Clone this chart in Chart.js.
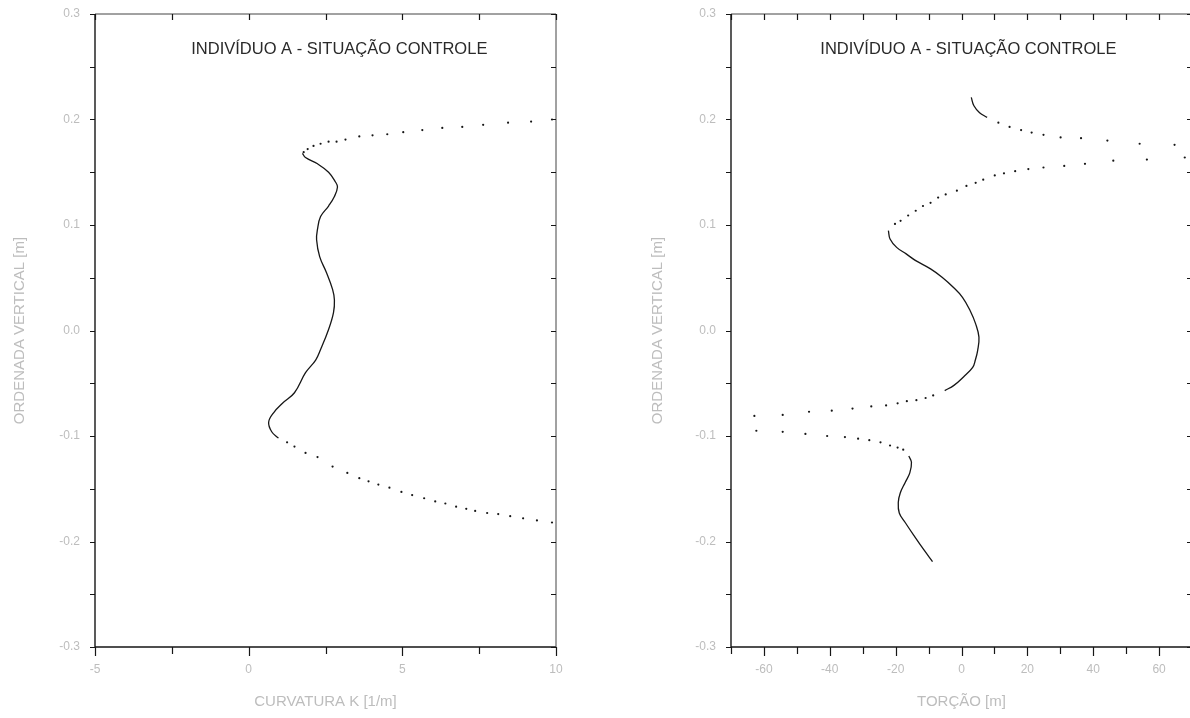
<!DOCTYPE html>
<html>
<head>
<meta charset="utf-8">
<script src="https://cdn.jsdelivr.net/npm/chart.js@4.4.1/dist/chart.umd.min.js"></script>
<style>
  html, body { margin: 0; padding: 0; background: #fff; overflow: hidden; width: 1190px; height: 718px; }
  canvas { position: absolute; top: 0; }
  #curvatura { left: 0; }
  #torcao { left: 600px; }
</style>
</head>
<body>
<canvas id="curvatura" width="600" height="718"></canvas>
<canvas id="torcao" width="620" height="718"></canvas>
<script>
// ---- shared texts and ticks ----
const panelTitle = 'INDIVÍDUO A - SITUAÇÃO CONTROLE';
const yAxisTitle = 'ORDENADA VERTICAL [m]';
const yMajorTicks = [-0.3, -0.2, -0.1, 0.0, 0.1, 0.2, 0.3];
const yMinorTicks = [-0.25, -0.15, -0.05, 0.05, 0.15, 0.25];

// ---- curvature panel ----
const curvAxisTitle = 'CURVATURA K [1/m]';
const curvMajorTicks = [-5, 0, 5, 10];
const curvMinorTicks = [-2.5, 2.5, 7.5];

// upper sparse arm (dots)
const curvTopX = [9.87, 9.19, 8.44, 7.63, 6.95, 6.30, 5.65, 5.03, 4.51, 4.03, 3.60, 3.15, 2.86, 2.60, 2.34, 2.11, 1.92, 1.79];
const curvTopY = [0.200, 0.198, 0.197, 0.195, 0.193, 0.192, 0.190, 0.188, 0.186, 0.185, 0.184, 0.181, 0.179, 0.179, 0.177, 0.175, 0.172, 0.169];
// dense central part (continuous trace)
const curvCoreX = [1.75, 1.85, 2.24, 2.60, 2.82, 2.89, 2.79, 2.60, 2.34, 2.24, 2.21, 2.31, 2.53, 2.73, 2.79, 2.76, 2.60, 2.34, 2.18, 1.85, 1.49, 1.10, 0.81, 0.65, 0.75, 0.97];
const curvCoreY = [0.168, 0.164, 0.158, 0.150, 0.141, 0.136, 0.127, 0.118, 0.108, 0.096, 0.086, 0.070, 0.055, 0.039, 0.029, 0.017, 0.001, -0.018, -0.028, -0.040, -0.059, -0.069, -0.078, -0.087, -0.096, -0.102];
// lower sparse arm (dots)
const curvBotX = [1.25, 1.49, 1.85, 2.24, 2.73, 3.21, 3.60, 3.90, 4.22, 4.58, 4.97, 5.32, 5.71, 6.07, 6.40, 6.75, 7.08, 7.37, 7.76, 8.12, 8.51, 8.93, 9.38, 9.87];
const curvBotY = [-0.106, -0.110, -0.116, -0.120, -0.129, -0.135, -0.140, -0.143, -0.146, -0.149, -0.153, -0.156, -0.159, -0.162, -0.164, -0.167, -0.169, -0.171, -0.173, -0.174, -0.176, -0.178, -0.180, -0.182];

// ---- torsion panel ----
const torAxisTitle = 'TORÇÃO [m]';
const torMajorTicks = [-60, -40, -20, 0, 20, 40, 60];
const torMinorTicks = [-70, -50, -30, -10, 10, 30, 50, 70];

const torTopX = [2.97, 3.77, 5.49, 7.77];
const torTopY = [0.221, 0.213, 0.2065, 0.202];
const torUpperDotsX = [11.2, 14.6, 18.1, 21.3, 24.9, 30.1, 36.3, 44.3, 54.1, 64.7];
const torUpperDotsY = [0.197, 0.193, 0.190, 0.1876, 0.1855, 0.183, 0.1823, 0.180, 0.177, 0.176];
const torReturnDotsX = [67.8, 56.3, 46.1, 37.5, 31.2, 24.9, 20.3, 16.3, 12.9, 10.1, 6.6, 4.3, 1.5, -1.4, -4.8, -7.1, -9.4, -11.7, -13.9, -16.2, -18.5, -20.2];
const torReturnDotsY = [0.164, 0.162, 0.161, 0.158, 0.156, 0.1545, 0.153, 0.151, 0.149, 0.147, 0.143, 0.140, 0.137, 0.1325, 0.129, 0.126, 0.121, 0.118, 0.1135, 0.109, 0.104, 0.101];
const torMidX = [-22.2, -21.7, -19.7, -16.8, -13.9, -9.4, -5.9, -2.5, 0.3, 2.6, 4.3, 5.3, 4.9, 4.2, 3.4, 0.6, -2.3, -5.1];
const torMidY = [0.0946, 0.0868, 0.0788, 0.0726, 0.0662, 0.0584, 0.0505, 0.041, 0.0315, 0.019, 0.0063, -0.0063, -0.019, -0.028, -0.035, -0.044, -0.052, -0.057];
const torLeftDotsX = [-8.6, -10.9, -13.7, -16.6, -19.4, -22.9, -27.4, -33.1, -39.4, -46.3, -54.3, -62.9];
const torLeftDotsY = [-0.0615, -0.064, -0.066, -0.067, -0.069, -0.071, -0.072, -0.074, -0.076, -0.077, -0.080, -0.081];
const torBackDotsX = [-62.3, -54.3, -47.4, -40.8, -35.4, -31.4, -28.0, -24.6, -21.7, -19.4, -17.7];
const torBackDotsY = [-0.095, -0.096, -0.098, -0.100, -0.101, -0.1025, -0.104, -0.106, -0.109, -0.111, -0.113];
const torLowX = [-16.0, -15.2, -15.7, -17.1, -18.6, -19.2, -18.9, -17.1, -14.3, -11.4, -8.8];
const torLowY = [-0.119, -0.125, -0.135, -0.144, -0.154, -0.163, -0.173, -0.182, -0.195, -0.208, -0.219];

const pts = (xs, ys) => xs.map((x, i) => ({ x, y: ys[i] }));

const INK = '#161616';
const FAINT = '#bdbdbd';
const FONT = "'Liberation Sans', Arial, sans-serif";

function traceSet(xs, ys) {
  return { data: pts(xs, ys), showLine: true, borderColor: INK, borderWidth: 1.3, tension: 0.4, pointRadius: 0 };
}
function dotSet(xs, ys) {
  return { data: pts(xs, ys), showLine: false, pointRadius: 1.1, pointBackgroundColor: INK, pointBorderWidth: 0 };
}

// frame, tick marks and in-plot title
const framePlugin = {
  id: 'frame',
  afterDraw(chart, args, o) {
    const { ctx, chartArea: a, scales: { x, y } } = chart;
    ctx.save();
    ctx.strokeStyle = INK;
    ctx.lineWidth = 1.4;
    ctx.beginPath();
    ctx.moveTo(a.left, a.top); ctx.lineTo(a.left, a.bottom); ctx.lineTo(a.right, a.bottom);
    ctx.stroke();
    ctx.lineWidth = 1;
    ctx.strokeStyle = '#444';
    ctx.beginPath();
    ctx.moveTo(a.left, a.top); ctx.lineTo(a.right, a.top); ctx.lineTo(a.right, a.bottom);
    ctx.stroke();

    ctx.strokeStyle = INK;
    ctx.lineWidth = 1.2;
    ctx.beginPath();
    const xTicks = o.xMajor.map(v => [v, o.bottomMajor]).concat(o.xMinor.map(v => [v, o.bottomMinor]));
    xTicks.forEach(([v, len]) => {
      const px = Math.round(x.getPixelForValue(v)) + 0.5;
      ctx.moveTo(px, a.bottom); ctx.lineTo(px, a.bottom + len);
      ctx.moveTo(px, a.top); ctx.lineTo(px, a.top + o.topLen);
    });
    const yTicks = o.yMajor.concat(o.yMinor);
    yTicks.forEach(v => {
      const py = Math.round(y.getPixelForValue(v)) + 0.5;
      ctx.moveTo(a.left - o.leftLen, py); ctx.lineTo(a.left, py);
      ctx.moveTo(a.right, py); ctx.lineTo(a.right - o.rightLen, py);
    });
    ctx.stroke();

    ctx.fillStyle = '#2a2a2a';
    ctx.font = `16.5px ${FONT}`;
    ctx.textAlign = 'center';
    ctx.textBaseline = 'alphabetic';
    ctx.fillText(o.title, a.left + a.width * o.titleFrac, a.top + 40);
    ctx.restore();
  }
};

// keep the plot frame where the layout padding puts it (no label overhang)
function noOverhang(s) {
  s.paddingTop = 0; s.paddingBottom = 0; s.paddingLeft = 0; s.paddingRight = 0;
}

function makePanel(id, cfg) {
  return new Chart(document.getElementById(id), {
    type: 'scatter',
    data: { datasets: cfg.datasets },
    plugins: [framePlugin],
    options: {
      responsive: false,
      animation: false,
      events: [],
      layout: { padding: { left: 0, top: 14, right: cfg.padRight, bottom: 0 } },
      plugins: {
        legend: { display: false },
        tooltip: { enabled: false },
        frame: {
          title: panelTitle, titleFrac: cfg.titleFrac,
          xMajor: cfg.xMajor, xMinor: cfg.xMinor, yMajor: yMajorTicks, yMinor: yMinorTicks,
          bottomMajor: 9, bottomMinor: 7, topLen: 6, leftLen: 5, rightLen: 5
        }
      },
      scales: {
        x: {
          type: 'linear', position: 'bottom', min: cfg.xMin, max: cfg.xMax,
          afterBuildTicks: s => { s.ticks = cfg.xMajor.map(v => ({ value: v })); },
          afterFit: s => { s.height = 71; noOverhang(s); },
          grid: { display: false, drawTicks: false },
          border: { display: false },
          ticks: { color: FAINT, font: { family: FONT, size: 12 }, padding: 15, callback: v => String(v) },
          title: { display: true, text: cfg.xTitle, color: FAINT, font: { family: FONT, size: 15 }, padding: { top: 0, bottom: 7 } }
        },
        y: {
          type: 'linear', position: 'left', min: -0.3, max: 0.3,
          afterBuildTicks: s => { s.ticks = yMajorTicks.map(v => ({ value: v })); },
          afterFit: s => { s.width = cfg.yWidth; noOverhang(s); },
          grid: { display: false, drawTicks: false },
          border: { display: false },
          ticks: { color: FAINT, font: { family: FONT, size: 12 }, padding: 15, callback: v => v.toFixed(1) },
          title: { display: true, text: yAxisTitle, color: FAINT, font: { family: FONT, size: 15 }, padding: { top: cfg.yTitlePad, bottom: 0 } }
        }
      }
    }
  });
}

makePanel('curvatura', {
  xMin: -5, xMax: 10, xMajor: curvMajorTicks, xMinor: curvMinorTicks,
  xTitle: curvAxisTitle, yWidth: 95, padRight: 44, yTitlePad: 11, titleFrac: 0.53,
  datasets: [
    dotSet(curvTopX, curvTopY),
    traceSet(curvCoreX, curvCoreY),
    dotSet(curvBotX, curvBotY)
  ]
});

makePanel('torcao', {
  xMin: -70, xMax: 70, xMajor: torMajorTicks, xMinor: torMinorTicks,
  xTitle: torAxisTitle, yWidth: 131, padRight: 28, yTitlePad: 49, titleFrac: 0.515,
  datasets: [
    traceSet(torTopX, torTopY),
    dotSet(torUpperDotsX, torUpperDotsY),
    dotSet(torReturnDotsX, torReturnDotsY),
    traceSet(torMidX, torMidY),
    dotSet(torLeftDotsX, torLeftDotsY),
    dotSet(torBackDotsX, torBackDotsY),
    traceSet(torLowX, torLowY)
  ]
});
</script>
</body>
</html>
